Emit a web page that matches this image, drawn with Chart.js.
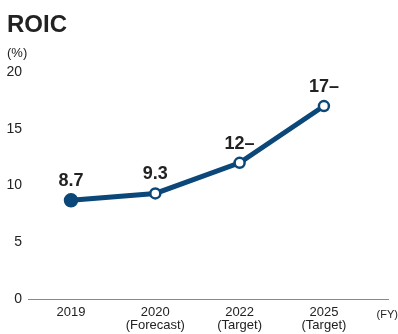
<!DOCTYPE html>
<html>
<head>
<meta charset="utf-8">
<script src="https://cdn.jsdelivr.net/npm/chart.js@4"></script>
<style>
  html, body { margin: 0; padding: 0; background: #fff; }
  #wrap { width: 398px; height: 334px; position: relative; }
</style>
</head>
<body>
<div id="wrap"><canvas id="roicChart"></canvas></div>
<script>
// データ
const years = ['2019', '2020', '2022', '2025'];
const subLabels = ['', '(Forecast)', '(Target)', '(Target)'];
const roicValues = [8.7, 9.3, 12, 17];
const valueLabels = ['8.7', '9.3', '12–', '17–'];
const yTicks = [0, 5, 10, 15, 20];

const navy = '#0b4778';
const textColor = '#222';
const fontFamily = '"Liberation Sans", Arial, Helvetica, sans-serif';

// タイトル・単位・数値ラベル
const labelPlugin = {
    id: 'labels',
    afterDatasetsDraw(chart) {
        const ctx = chart.ctx;
        ctx.save();
        ctx.fillStyle = textColor;
        ctx.textBaseline = 'alphabetic';

        ctx.font = 'bold 24px ' + fontFamily;
        ctx.textAlign = 'left';
        ctx.fillText('ROIC', 7, 32);

        ctx.font = '13px ' + fontFamily;
        ctx.fillText('(%)', 7, 57);

        ctx.font = '11px ' + fontFamily;
        ctx.textAlign = 'right';
        ctx.fillText('(FY)', 398, 318);

        const meta = chart.getDatasetMeta(0);
        ctx.font = 'bold 18px ' + fontFamily;
        ctx.textAlign = 'center';
        meta.data.forEach((pt, i) => {
            ctx.fillText(valueLabels[i], pt.x, pt.y - 14);
        });
        ctx.restore();
    }
};

new Chart(document.getElementById('roicChart').getContext('2d'), {
    type: 'line',
    data: {
        datasets: [{
            data: roicValues.map((v, i) => ({ x: i, y: v })),
            borderColor: navy,
            borderWidth: 5,
            tension: 0,
            pointRadius: roicValues.map((v, i) => i === 0 ? 6 : 5),
            pointBackgroundColor: roicValues.map((v, i) => i === 0 ? navy : '#fff'),
            pointBorderColor: navy,
            pointBorderWidth: 2.5,
        }]
    },
    options: {
        responsive: true,
        maintainAspectRatio: false,
        animation: false,
        layout: { padding: { top: 72, left: 6, right: 10, bottom: 0 } },
        plugins: {
            legend: { display: false },
            tooltip: { enabled: false },
        },
        scales: {
            x: {
                type: 'linear',
                min: -0.51,
                max: 3.76,
                afterBuildTicks: (axis) => {
                    axis.ticks = years.map((y, i) => ({ value: i }));
                },
                afterFit: (axis) => { axis.height = 35; },
                grid: { display: false, drawTicks: false },
                border: { display: true, color: '#888', width: 1 },
                ticks: {
                    color: textColor,
                    font: { family: fontFamily, size: 13, lineHeight: 1.0 },
                    padding: 7,
                    maxRotation: 0,
                    callback: (v) => subLabels[v] ? [years[v], subLabels[v]] : years[v],
                }
            },
            y: {
                min: 0,
                max: 20,
                afterBuildTicks: (axis) => {
                    axis.ticks = yTicks.map(v => ({ value: v }));
                },
                afterFit: (axis) => { axis.width = 22; },
                grid: { display: false, drawTicks: false },
                border: { display: false },
                ticks: {
                    color: textColor,
                    font: { family: fontFamily, size: 14 },
                    padding: 6,
                }
            }
        }
    },
    plugins: [labelPlugin]
});
</script>
</body>
</html>
